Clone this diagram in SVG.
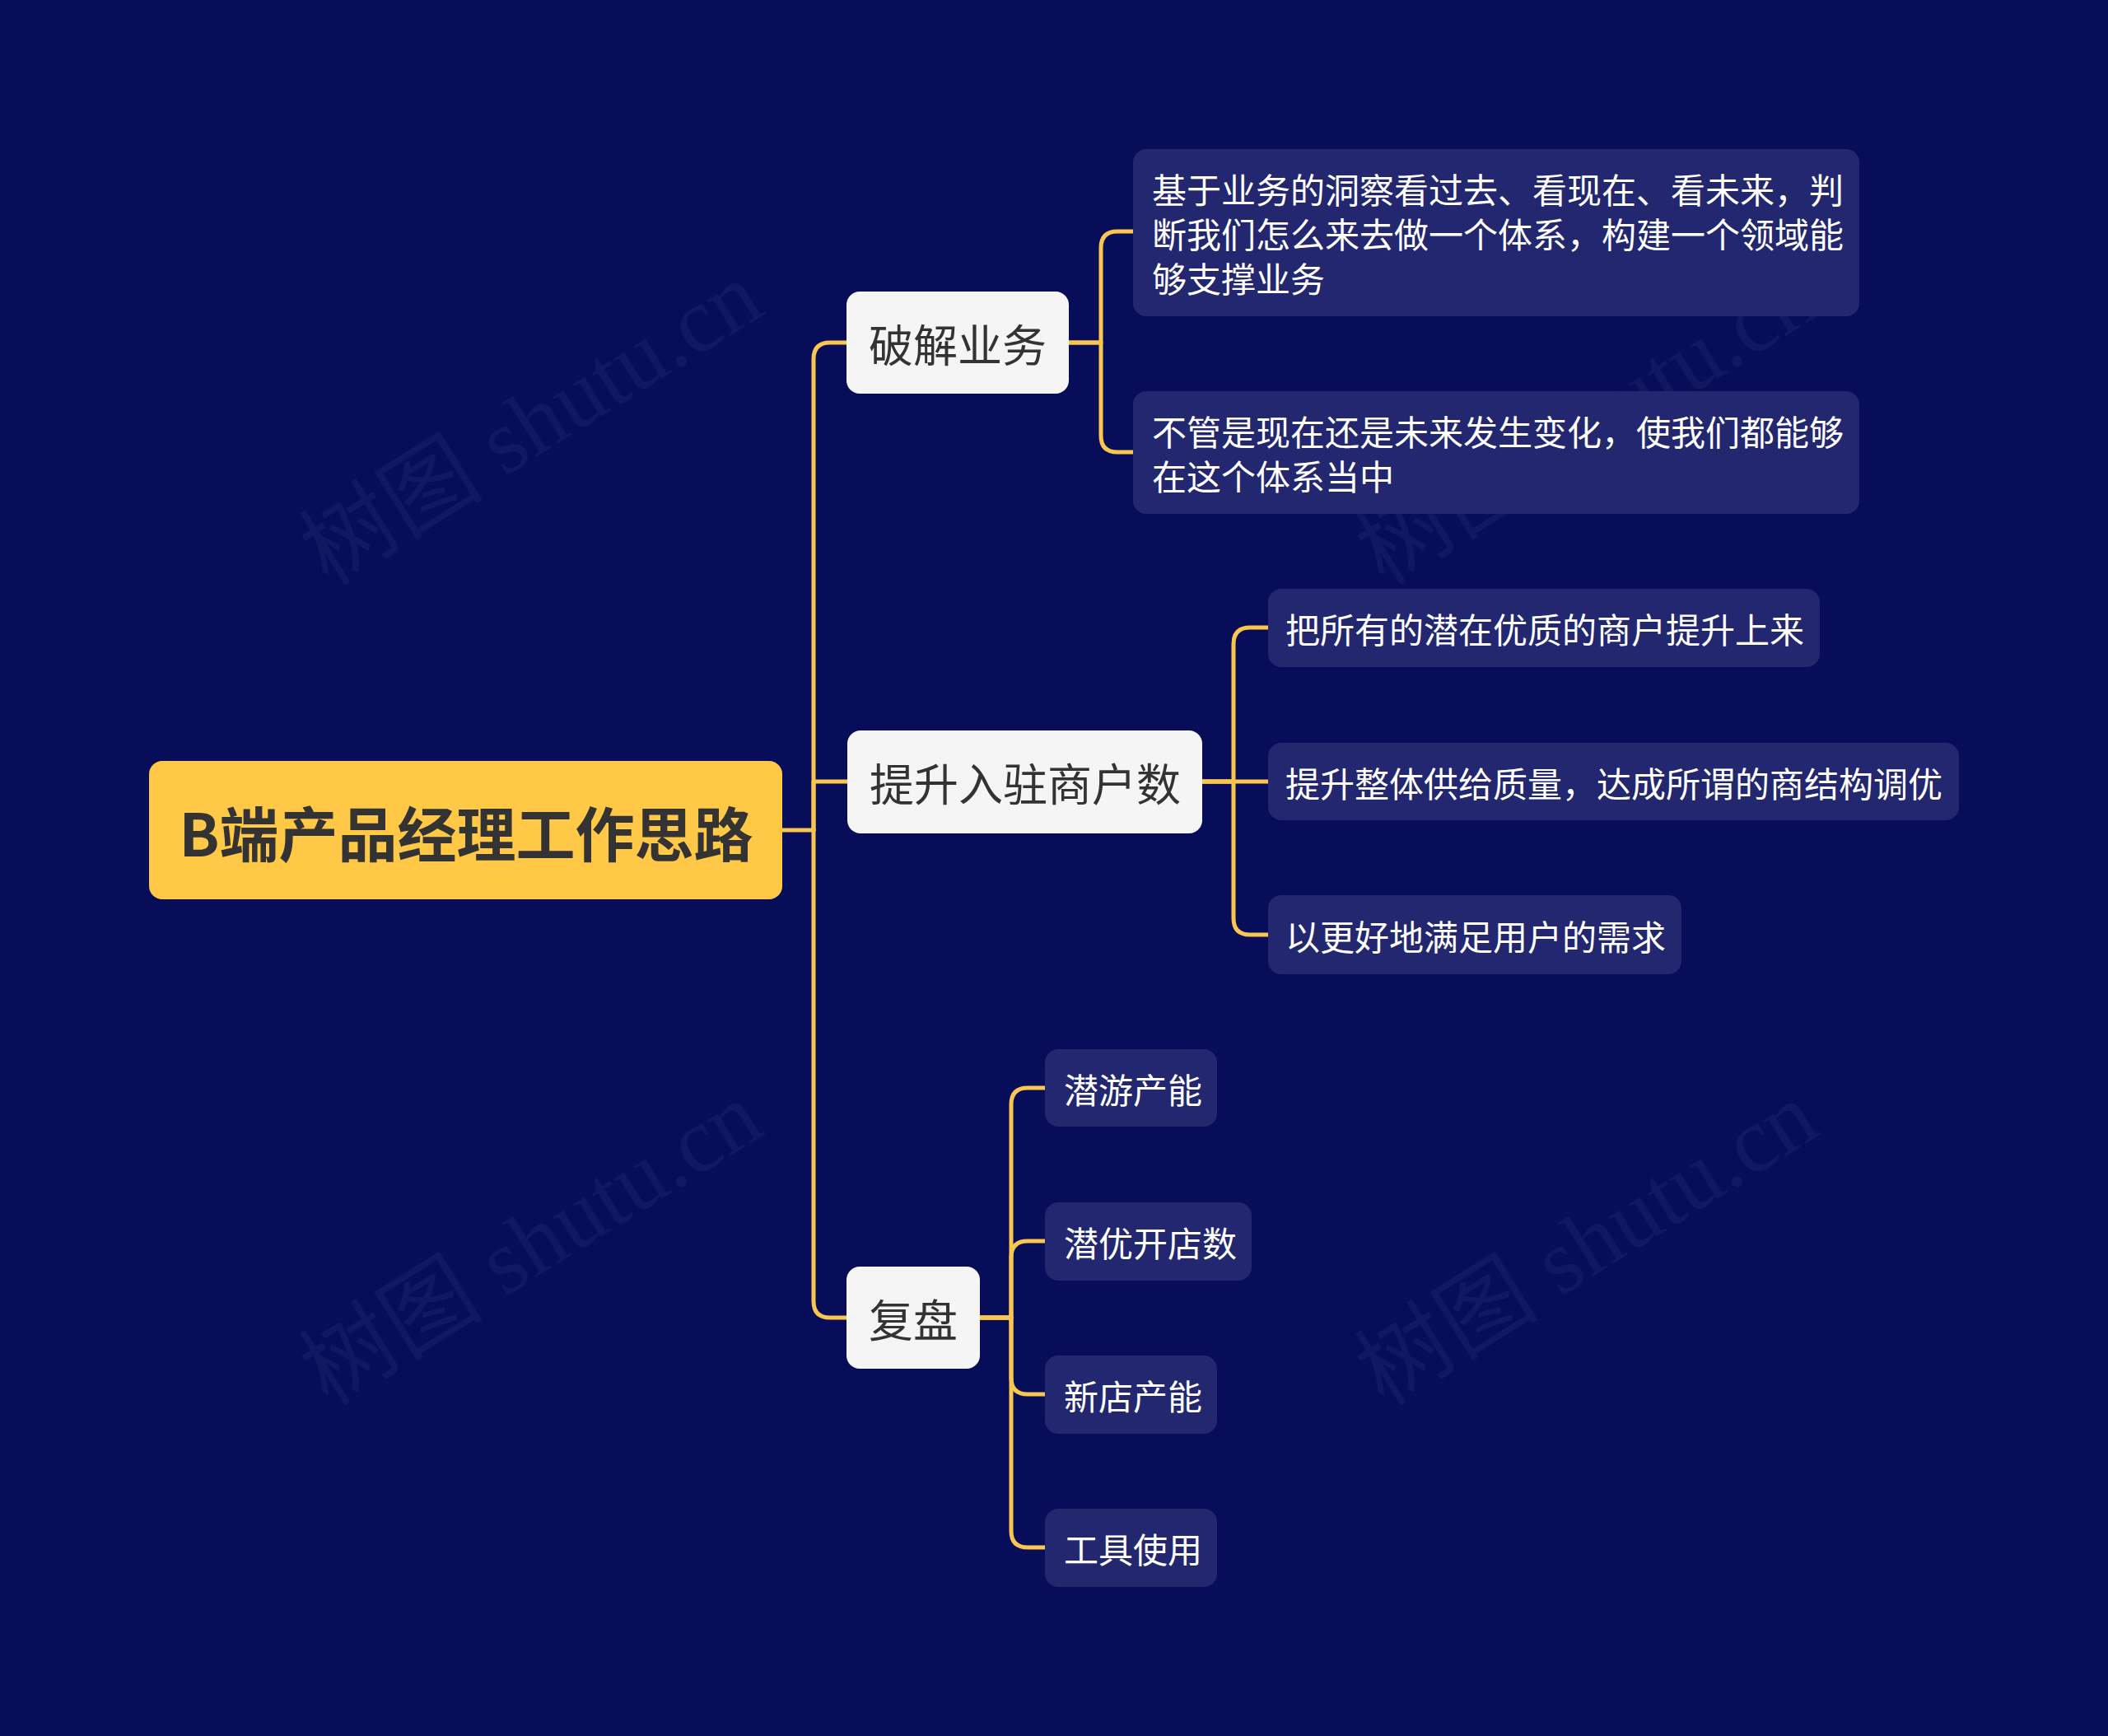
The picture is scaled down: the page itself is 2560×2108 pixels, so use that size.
<svg xmlns="http://www.w3.org/2000/svg" width="2560" height="2108" viewBox="0 0 2560 2108">
<style>
.bg{fill:#070d59}
.wm{font-family:"Liberation Serif","Noto Sans CJK SC",serif;font-size:112px;fill:#ffffff;fill-opacity:0.045}
.root{fill:#ffc847}
.rootT{font-family:"Noto Sans CJK SC","Noto Sans",sans-serif;font-size:72px;font-weight:700;fill:#333333}
.l1{fill:#f5f5f5}
.l1T{font-family:"Noto Sans CJK SC","Noto Sans",sans-serif;font-size:54px;fill:#333333}
.l2{fill:#22276f}
.l2T{font-family:"Noto Sans CJK SC","Noto Sans",sans-serif;font-size:42px;fill:#ffffff}
.c{fill:none;stroke:#f9c74f;stroke-width:5;stroke-linecap:round;stroke-linejoin:round}
</style>
<rect class="bg" x="0" y="0" width="2560" height="2108"/>
<g id="watermarks">
<text class="wm" x="645" y="514" text-anchor="middle" dominant-baseline="central" transform="rotate(-32 645 514)">树图 shutu.cn</text>
<text class="wm" x="1927" y="514" text-anchor="middle" dominant-baseline="central" transform="rotate(-32 1927 514)">树图 shutu.cn</text>
<text class="wm" x="645" y="1510" text-anchor="middle" dominant-baseline="central" transform="rotate(-32 645 1510)">树图 shutu.cn</text>
<text class="wm" x="1927" y="1510" text-anchor="middle" dominant-baseline="central" transform="rotate(-32 1927 1510)">树图 shutu.cn</text>
</g>
<g id="connectors">
<path class="c" d="M950 1008 H988"/>
<path class="c" d="M988 1008 V436 Q988 416 1008 416 H1028"/>
<path class="c" d="M988 1008 V949 H1029"/>
<path class="c" d="M988 1008 V1580 Q988 1600 1008 1600 H1028"/>
<path class="c" d="M1298 416 H1337 V301 Q1337 281 1357 281 H1376"/>
<path class="c" d="M1298 416 H1337 V529 Q1337 549 1357 549 H1376"/>
<path class="c" d="M1460 949 H1498 V782 Q1498 762 1518 762 H1540"/>
<path class="c" d="M1460 949 H1540"/>
<path class="c" d="M1460 949 H1498 V1115 Q1498 1135 1518 1135 H1540"/>
<path class="c" d="M1190 1600 H1228 V1341 Q1228 1321 1248 1321 H1269"/>
<path class="c" d="M1190 1600 H1228 V1527 Q1228 1507 1248 1507 H1269"/>
<path class="c" d="M1190 1600 H1228 V1673 Q1228 1693 1248 1693 H1269"/>
<path class="c" d="M1190 1600 H1228 V1859 Q1228 1879 1248 1879 H1269"/>
</g>
<g id="root">
<rect class="root" x="181" y="924" width="769" height="168" rx="16"/>
<text class="rootT" x="566" y="1008" text-anchor="middle" dominant-baseline="central">B端产品经理工作思路</text>
</g>
<g id="n-pojie">
<rect class="l1" x="1028" y="354" width="270" height="124" rx="16"/>
<text class="l1T" x="1163" y="416" text-anchor="middle" dominant-baseline="central">破解业务</text>
</g>
<g id="n-tisheng">
<rect class="l1" x="1029" y="887" width="431" height="125" rx="16"/>
<text class="l1T" x="1245" y="949" text-anchor="middle" dominant-baseline="central">提升入驻商户数</text>
</g>
<g id="n-fupan">
<rect class="l1" x="1028" y="1538" width="162" height="124" rx="16"/>
<text class="l1T" x="1109" y="1600" text-anchor="middle" dominant-baseline="central">复盘</text>
</g>
<g id="n-pojie-1">
<rect class="l2" x="1376" y="181" width="882" height="203" rx="16"/>
<text class="l2T" x="1399" y="228" dominant-baseline="central">基于业务的洞察看过去、看现在、看未来，判</text>
<text class="l2T" x="1399" y="282" dominant-baseline="central">断我们怎么来去做一个体系，构建一个领域能</text>
<text class="l2T" x="1399" y="336" dominant-baseline="central">够支撑业务</text>
</g>
<g id="n-pojie-2">
<rect class="l2" x="1376" y="475" width="882" height="149" rx="16"/>
<text class="l2T" x="1399" y="522" dominant-baseline="central">不管是现在还是未来发生变化，使我们都能够</text>
<text class="l2T" x="1399" y="576" dominant-baseline="central">在这个体系当中</text>
</g>
<g id="n-tisheng-1">
<rect class="l2" x="1540" y="715" width="670" height="95" rx="16"/>
<text class="l2T" x="1561" y="762" dominant-baseline="central">把所有的潜在优质的商户提升上来</text>
</g>
<g id="n-tisheng-2">
<rect class="l2" x="1540" y="902" width="839" height="94" rx="16"/>
<text class="l2T" x="1561" y="949" dominant-baseline="central">提升整体供给质量，达成所谓的商结构调优</text>
</g>
<g id="n-tisheng-3">
<rect class="l2" x="1540" y="1087" width="502" height="96" rx="16"/>
<text class="l2T" x="1561" y="1135" dominant-baseline="central">以更好地满足用户的需求</text>
</g>
<g id="n-fupan-1">
<rect class="l2" x="1269" y="1274" width="209" height="94" rx="16"/>
<text class="l2T" x="1292" y="1321" dominant-baseline="central">潜游产能</text>
</g>
<g id="n-fupan-2">
<rect class="l2" x="1269" y="1460" width="251" height="95" rx="16"/>
<text class="l2T" x="1292" y="1507" dominant-baseline="central">潜优开店数</text>
</g>
<g id="n-fupan-3">
<rect class="l2" x="1269" y="1646" width="209" height="95" rx="16"/>
<text class="l2T" x="1292" y="1693" dominant-baseline="central">新店产能</text>
</g>
<g id="n-fupan-4">
<rect class="l2" x="1269" y="1832" width="209" height="95" rx="16"/>
<text class="l2T" x="1292" y="1879" dominant-baseline="central">工具使用</text>
</g>
</svg>
